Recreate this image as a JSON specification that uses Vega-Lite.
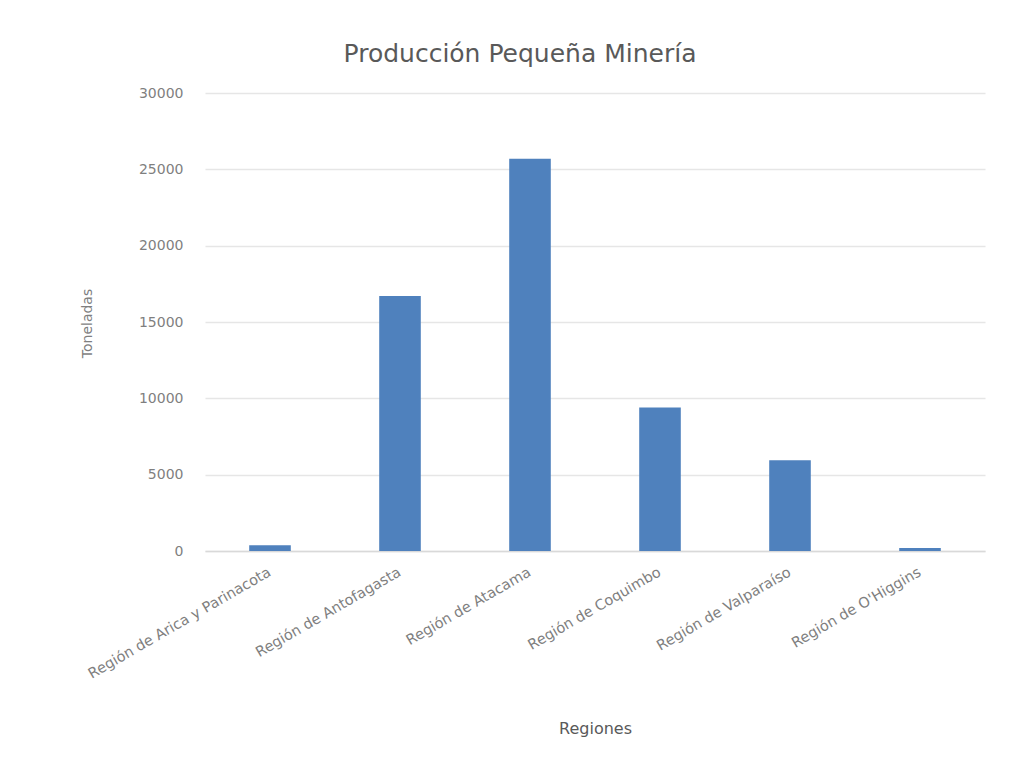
{
  "$schema": "https://vega.github.io/schema/vega-lite/v6.json",
  "autosize": {"type": "none"},
  "padding": {"left": 205, "top": 93, "right": 35, "bottom": 212},
  "width": 780,
  "height": 458,
  "background": "white",
  "title": {
    "text": "Producción Pequeña Minería",
    "font": "DejaVu Sans",
    "fontSize": 25,
    "fontWeight": "normal",
    "color": "#595959",
    "anchor": "middle",
    "dx": -75,
    "offset": 19
  },
  "data": {
    "values": [
      {"region": "Región de Arica y Parinacota", "toneladas": 380},
      {"region": "Región de Antofagasta", "toneladas": 16700},
      {"region": "Región de Atacama", "toneladas": 25700},
      {"region": "Región de Coquimbo", "toneladas": 9400},
      {"region": "Región de Valparaíso", "toneladas": 5950},
      {"region": "Región de O'Higgins", "toneladas": 200}
    ]
  },
  "mark": {"type": "bar", "color": "#4F81BD"},
  "encoding": {
    "x": {
      "field": "region",
      "type": "nominal",
      "sort": null,
      "scale": {"paddingInner": 0.68, "paddingOuter": 0.34},
      "axis": {
        "title": "Regiones",
        "titleFont": "DejaVu Sans",
        "titleFontSize": 16,
        "titleFontWeight": "normal",
        "titleColor": "#595959",
        "titleY": 177,
        "titleBaseline": "middle",
        "labelAngle": -30,
        "labelAlign": "right",
        "labelBaseline": "middle",
        "labelFont": "DejaVu Sans",
        "labelFontSize": 14.5,
        "labelColor": "#7f7f7f",
        "labelPadding": 20,
        "labelLimit": 400,
        "ticks": false,
        "domain": true,
        "domainColor": "#d9d9d9",
        "domainWidth": 1.5
      }
    },
    "y": {
      "field": "toneladas",
      "type": "quantitative",
      "scale": {"domain": [0, 30000], "nice": false},
      "axis": {
        "title": "Toneladas",
        "titleFont": "DejaVu Sans",
        "titleFontSize": 14,
        "titleFontWeight": "normal",
        "titleColor": "#7f7f7f",
        "titleX": -118,
        "titleY": 230,
        "titleAlign": "center",
        "titleBaseline": "middle",
        "values": [0, 5000, 10000, 15000, 20000, 25000, 30000],
        "format": "d",
        "labelFont": "DejaVu Sans",
        "labelFontSize": 14,
        "labelColor": "#7f7f7f",
        "labelPadding": 22,
        "ticks": false,
        "domain": false,
        "grid": true,
        "gridColor": "#e6e6e6",
        "gridWidth": 1.5
      }
    }
  },
  "config": {"view": {"stroke": null}}
}
